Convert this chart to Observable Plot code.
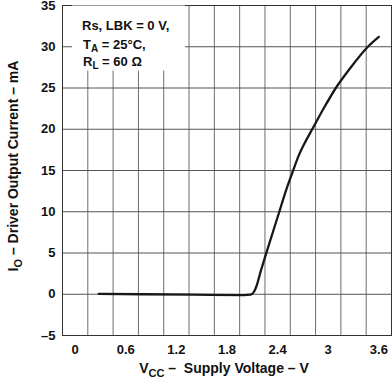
<!DOCTYPE html>
<html>
<head>
<meta charset="utf-8">
<script src="https://cdn.jsdelivr.net/npm/d3@7"></script>
<script src="https://cdn.jsdelivr.net/npm/@observablehq/plot@0.6"></script>
<style>
  html, body { margin: 0; padding: 0; background: #fff; }
  #chart { width: 392px; height: 378px; }
</style>
</head>
<body>
<div id="chart"></div>
<script>
// Supply voltage (V) and driver output current (mA)
const vcc = [0.28, 0.8, 1.4, 2.0, 2.08, 2.12, 2.15, 2.20, 2.26, 2.42, 2.50, 2.57, 2.65, 2.73, 2.81, 2.95, 3.09, 3.26, 3.47, 3.6];
const io  = [0.05, 0.0, -0.05, -0.1, -0.05, 0.3, 1.0, 2.8, 4.8, 10.0, 12.6, 14.6, 16.8, 18.5, 20.0, 22.6, 25.0, 27.4, 30.0, 31.2];
const xTicks = [0, 0.6, 1.2, 1.8, 2.4, 3, 3.6];
const yTicks = [-5, 0, 5, 10, 15, 20, 25, 30, 35];
const xGrid = d3.range(1, 13).map(k => -0.15 + 0.3 * k);
const yGrid = [0, 5, 10, 15, 20, 25, 30];

const data = vcc.map((v, i) => ({ v, i: io[i] }));
const yFmt = d => d < 0 ? "\u2013" + Math.abs(d) : String(d);

const plot = Plot.plot({
  width: 392,
  height: 378,
  marginLeft: 62,
  marginRight: 1,
  marginTop: 5,
  marginBottom: 43,
  style: { fontFamily: "'Liberation Sans', Arial, sans-serif", fontSize: "13px", fontWeight: "bold", color: "#111", background: "#fff", overflow: "visible" },
  x: { domain: [-0.15, 3.75], ticks: xTicks, tickFormat: d => String(d), label: null },
  y: { domain: [-5, 35], ticks: yTicks, tickFormat: yFmt, label: null },
  marks: [
    Plot.ruleX(xGrid, { stroke: "#6e6e6e", strokeWidth: 1 }),
    Plot.ruleY(yGrid, { stroke: "#555", strokeWidth: 1 }),
    Plot.frame({ stroke: "#333", strokeWidth: 1 }),
    Plot.axisX({ ticks: xTicks, tickSize: 0, tickPadding: 9, tickFormat: d => String(d), label: null }),
    Plot.axisY({ ticks: yTicks, tickSize: 0, tickPadding: 7, tickFormat: yFmt, label: null }),
    Plot.line(data, { x: "v", y: "i", stroke: "#1a1718", strokeWidth: 2.3, curve: "monotone-x" })
  ]
});

document.getElementById("chart").appendChild(plot);

const svg = d3.select(plot);
const font = "'Liberation Sans', Arial, sans-serif";

// Annotation box
const ann = svg.append("g").attr("text-anchor", "start");
ann.append("rect").attr("x", 72).attr("y", 5.5).attr("width", 113).attr("height", 65).attr("fill", "#fff");
const annLines = [
  [["Rs, LBK = 0 V,", null]],
  [["T", null], ["A", "sub"], [" = 25\u00B0C,", "back"]],
  [["R", null], ["L", "sub"], [" = 60 \u03A9", "back"]]
];
const annX = [82, 83, 83];
const annY = [30, 49, 66];
annLines.forEach((parts, li) => {
  const t = ann.append("text").attr("x", annX[li]).attr("y", annY[li]).attr("text-anchor", "start")
    .attr("font-family", font).attr("font-size", 13).attr("font-weight", "bold").attr("fill", "#111");
  parts.forEach(([s, kind]) => {
    const ts = t.append("tspan").text(s);
    if (kind === "sub") ts.attr("font-size", 10).attr("dy", 3);
    else if (kind === "back") ts.attr("dy", -3);
  });
});

// X axis label
const xl = svg.append("text").attr("x", 224).attr("y", 373).attr("text-anchor", "middle")
  .attr("font-family", font).attr("font-size", 14).attr("font-weight", "bold").attr("fill", "#111");
xl.append("tspan").text("V");
xl.append("tspan").text("CC").attr("font-size", 11).attr("dy", 4);
xl.append("tspan").text(" \u2013  Supply Voltage \u2013 V").attr("dy", -4);

// Y axis label
const yl = svg.append("text").attr("transform", "translate(18,166) rotate(-90)").attr("text-anchor", "middle")
  .attr("font-family", font).attr("font-size", 14).attr("font-weight", "bold").attr("fill", "#111");
yl.append("tspan").text("I");
yl.append("tspan").text("O").attr("font-size", 11).attr("dy", 4);
yl.append("tspan").text(" \u2013 Driver Output Current \u2013 mA").attr("dy", -4);
</script>
</body>
</html>
